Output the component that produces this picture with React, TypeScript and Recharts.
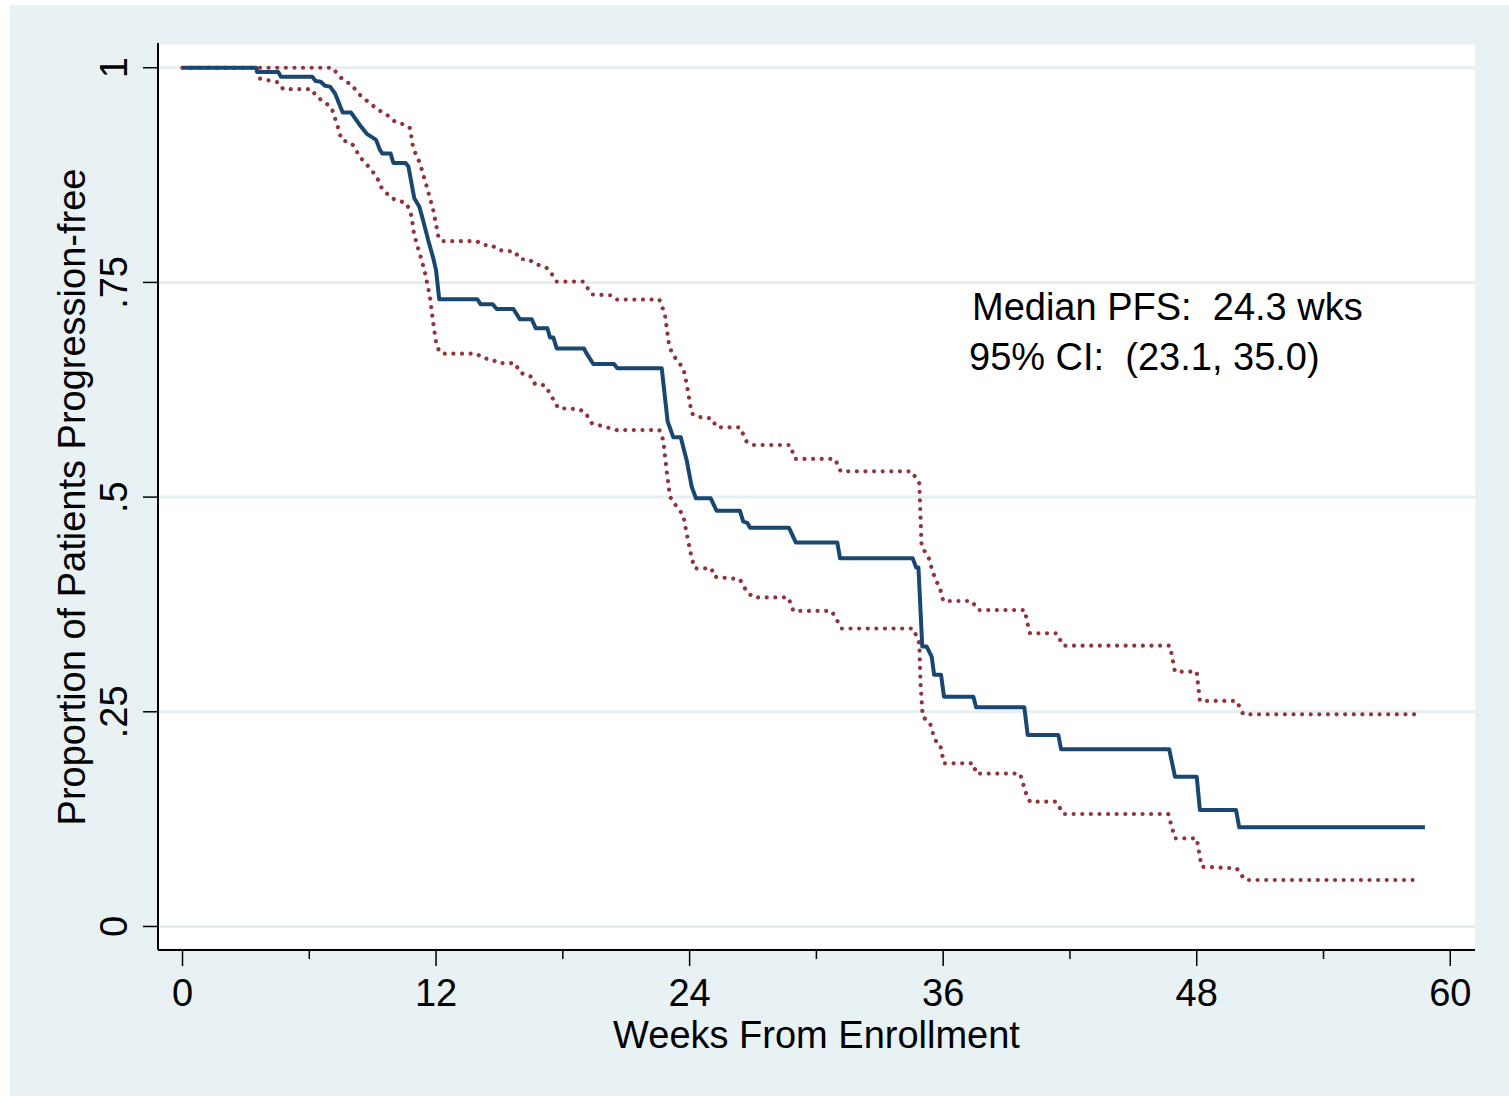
import React from 'react';
import { LineChart, Line, XAxis, YAxis, CartesianGrid, Label } from 'recharts';

// Kaplan-Meier estimate of progression-free proportion (corners)
const pfsWeeks = [0, 3.48, 3.54, 4.53, 4.66, 6.14, 6.3, 6.54, 6.74, 6.98, 7.22, 7.58, 7.97, 8.4, 8.72, 8.91, 9.16, 9.35, 9.46, 9.85, 9.98, 10.56, 10.69, 10.97, 11.21, 11.4, 11.63, 11.87, 12.0, 12.15, 13.95, 14.11, 14.68, 14.87, 15.66, 15.97, 16.53, 16.72, 17.27, 17.39, 17.55, 17.71, 19.0, 19.13, 19.44, 20.42, 20.58, 22.68, 22.96, 23.23, 23.58, 23.86, 24.1, 24.3, 25.0, 25.28, 26.38, 26.54, 26.73, 26.86, 28.7, 29.03, 30.99, 31.12, 34.56, 34.72, 34.83, 35.01, 35.22, 35.46, 35.57, 35.9, 36.04, 37.43, 37.56, 39.84, 40.0, 41.45, 41.58, 46.7, 46.97, 48.0, 48.15, 49.86, 50.01, 58.8];
const pfsValues = [1, 1, 0.995, 0.995, 0.9895, 0.9895, 0.9845, 0.9837, 0.979, 0.978, 0.97, 0.948, 0.948, 0.933, 0.923, 0.92, 0.916, 0.904, 0.9, 0.9, 0.889, 0.889, 0.885, 0.848, 0.838, 0.821, 0.799, 0.778, 0.764, 0.7305, 0.7305, 0.7245, 0.7245, 0.719, 0.719, 0.707, 0.707, 0.6966, 0.6966, 0.686, 0.686, 0.673, 0.673, 0.667, 0.655, 0.655, 0.65, 0.65, 0.588, 0.5696, 0.5696, 0.543, 0.512, 0.4986, 0.4986, 0.484, 0.484, 0.4714, 0.47, 0.4644, 0.4644, 0.447, 0.447, 0.4287, 0.4287, 0.418, 0.418, 0.326, 0.326, 0.314, 0.293, 0.293, 0.2676, 0.2676, 0.2552, 0.2552, 0.223, 0.223, 0.2063, 0.2063, 0.1744, 0.1744, 0.1357, 0.1357, 0.1155, 0.1155];

// upper 95% bound
const upperWeeks = [0, 7.11, 7.3, 7.61, 8.01, 8.32, 8.87, 9.27, 9.74, 10.06, 10.61, 10.77, 10.92, 11.24, 11.56, 11.87, 12.11, 12.27, 13.92, 14.24, 14.63, 14.95, 15.74, 15.97, 16.37, 16.68, 17.31, 17.71, 18.97, 19.37, 20.31, 20.55, 22.57, 22.83, 23.04, 23.23, 23.7, 23.86, 24.1, 24.33, 25.04, 25.28, 26.38, 26.7, 27.01, 28.75, 28.99, 30.88, 31.15, 34.51, 34.87, 34.98, 35.3, 35.53, 35.93, 36.0, 37.35, 37.66, 39.87, 39.95, 40.11, 41.37, 41.68, 46.73, 46.97, 48.0, 48.15, 49.89, 50.2, 58.57];
const upperValues = [1, 1, 0.9935, 0.9857, 0.98, 0.97, 0.9585, 0.951, 0.944, 0.937, 0.933, 0.9295, 0.906, 0.8887, 0.8615, 0.834, 0.803, 0.798, 0.798, 0.7935, 0.7935, 0.7877, 0.7857, 0.777, 0.777, 0.772, 0.766, 0.751, 0.751, 0.736, 0.735, 0.73, 0.73, 0.713, 0.675, 0.665, 0.65, 0.632, 0.5974, 0.5935, 0.5917, 0.5813, 0.5813, 0.5645, 0.5607, 0.5607, 0.5444, 0.5444, 0.53, 0.53, 0.516, 0.4423, 0.4306, 0.411, 0.388, 0.379, 0.379, 0.3685, 0.3685, 0.357, 0.3414, 0.3414, 0.327, 0.327, 0.2967, 0.2967, 0.2626, 0.2626, 0.2471, 0.2471];

// lower 95% bound
const lowerWeeks = [0, 3.48, 3.59, 4.53, 4.77, 6.11, 6.35, 6.74, 7.06, 7.3, 7.53, 8.01, 8.4, 8.87, 9.19, 9.43, 9.9, 10.61, 10.85, 10.92, 11.08, 11.32, 11.48, 11.71, 11.87, 12.03, 12.27, 13.92, 14.24, 14.63, 14.95, 15.74, 15.97, 16.53, 16.68, 17.16, 17.47, 17.79, 18.73, 19.05, 19.37, 20.55, 22.57, 22.75, 22.91, 23.07, 23.39, 23.7, 23.86, 24.1, 24.25, 25.04, 25.15, 26.38, 26.7, 27.01, 28.67, 28.91, 30.72, 31.2, 34.58, 34.87, 34.93, 35.03, 35.38, 35.61, 35.85, 36.04, 37.43, 37.56, 39.64, 39.95, 40.11, 41.34, 41.53, 41.68, 46.65, 46.97, 48.0, 48.23, 49.89, 50.28, 58.57];
const lowerValues = [1, 1, 0.9877, 0.983, 0.975, 0.975, 0.966, 0.96, 0.9527, 0.935, 0.916, 0.912, 0.896, 0.883, 0.873, 0.8596, 0.848, 0.842, 0.8265, 0.811, 0.7955, 0.776, 0.7606, 0.7333, 0.702, 0.675, 0.667, 0.667, 0.6616, 0.6605, 0.656, 0.656, 0.645, 0.64, 0.6317, 0.63, 0.617, 0.6034, 0.6026, 0.599, 0.586, 0.578, 0.578, 0.5665, 0.5315, 0.5005, 0.4888, 0.479, 0.4578, 0.4287, 0.417, 0.417, 0.4073, 0.4043, 0.39, 0.3832, 0.3832, 0.3674, 0.3674, 0.347, 0.347, 0.3298, 0.283, 0.2443, 0.2366, 0.217, 0.2125, 0.19, 0.19, 0.178, 0.178, 0.153, 0.1453, 0.1453, 0.1376, 0.131, 0.131, 0.1027, 0.1027, 0.0696, 0.0677, 0.0541, 0.0541];

const xTicks = [0, 6, 12, 18, 24, 30, 36, 42, 48, 54, 60];
const xTickLabels = ['0', '', '12', '', '24', '', '36', '', '48', '', '60'];
const yTicks = [0, 0.25, 0.5, 0.75, 1];
const yTickLabels = ['0', '.25', '.5', '.75', '1'];
const annotationLines = ['Median PFS:  24.3 wks', '95% CI:  (23.1, 35.0)'];

const toPoints = (weeks: number[], values: number[]) =>
  weeks.map((w, i) => ({ week: w, value: values[i] }));

const pfsData = toPoints(pfsWeeks, pfsValues);
const upperData = toPoints(upperWeeks, upperValues);
const lowerData = toPoints(lowerWeeks, lowerValues);

const FONT = '"Liberation Sans", Arial, Helvetica, sans-serif';
const NAVY = '#1a476f';
const MAROON = '#90353b';
const BG = '#e8f1f3';

// plot region in page pixels
const PLOT_LEFT = 158;
const PLOT_TOP = 43;
const PLOT_RIGHT = 1475;
const PLOT_BOTTOM = 950;

const XTick = (props: any) => {
  const { x, payload } = props;
  const idx = xTicks.indexOf(payload.value);
  const label = xTickLabels[idx];
  const major = label !== '';
  return (
    <g>
      <line x1={x} x2={x} y1={PLOT_BOTTOM} y2={PLOT_BOTTOM + (major ? 16 : 9)} stroke="#000" strokeWidth={1.5} />
      {major && (
        <text x={x} y={1006} textAnchor="middle" fontSize={38} fontFamily={FONT} fill="#000">
          {label}
        </text>
      )}
    </g>
  );
};

const YTick = (props: any) => {
  const { y, payload } = props;
  const idx = yTicks.indexOf(payload.value);
  return (
    <g>
      <line x1={PLOT_LEFT - 15} x2={PLOT_LEFT} y1={y} y2={y} stroke="#000" strokeWidth={1.5} />
      <text
        x={127}
        y={y}
        transform={`rotate(-90, 127, ${y})`}
        textAnchor="middle"
        fontSize={38}
        fontFamily={FONT}
        fill="#000"
      >
        {yTickLabels[idx]}
      </text>
    </g>
  );
};

export default function App() {
  return (
    <div style={{ position: 'absolute', left: 0, top: 0, width: 1509, height: 1096, background: '#fff' }}>
      <div style={{ position: 'absolute', left: 10, top: 5, right: 0, bottom: 0, background: BG }} />
      <div style={{ position: 'absolute', left: 0, top: 0 }}>
        <LineChart
          width={1509}
          height={1096}
          margin={{ top: PLOT_TOP, right: 1509 - PLOT_RIGHT, bottom: 1096 - PLOT_BOTTOM - 100, left: PLOT_LEFT - 100 }}
        >
          <CartesianGrid vertical={false} stroke="#e6eef1" strokeWidth={3} fill="#ffffff" />
          <XAxis
            type="number"
            dataKey="week"
            domain={[-1.16, 61.17]}
            allowDataOverflow
            ticks={xTicks}
            interval={0}
            height={100}
            axisLine={{ stroke: '#000', strokeWidth: 2 }}
            tickLine={false}
            tick={<XTick />}
          >
            <Label
              content={() => (
                <text x={(PLOT_LEFT + PLOT_RIGHT) / 2} y={1048} textAnchor="middle" fontSize={38} fontFamily={FONT} fill="#000">
                  Weeks From Enrollment
                </text>
              )}
            />
          </XAxis>
          <YAxis
            type="number"
            domain={[-0.0274, 1.0288]}
            allowDataOverflow
            ticks={yTicks}
            interval={0}
            width={100}
            axisLine={{ stroke: '#000', strokeWidth: 2 }}
            tickLine={false}
            tick={<YTick />}
          >
            <Label
              content={() => (
                <text
                  x={85}
                  y={497}
                  transform="rotate(-90, 85, 497)"
                  textAnchor="middle"
                  fontSize={38}
                  fontFamily={FONT}
                  fill="#000"
                >
                  Proportion of Patients Progression-free
                </text>
              )}
            />
          </YAxis>
          <Line
            data={upperData}
            dataKey="value"
            type="linear"
            stroke={MAROON}
            strokeWidth={4.2}
            strokeDasharray="0.01 8.6"
            strokeLinecap="round"
            dot={false}
            activeDot={false}
            isAnimationActive={false}
          />
          <Line
            data={lowerData}
            dataKey="value"
            type="linear"
            stroke={MAROON}
            strokeWidth={4.2}
            strokeDasharray="0.01 8.6"
            strokeLinecap="round"
            dot={false}
            activeDot={false}
            isAnimationActive={false}
          />
          <Line
            data={pfsData}
            dataKey="value"
            type="linear"
            stroke={NAVY}
            strokeWidth={4}
            strokeLinejoin="round"
            dot={false}
            activeDot={false}
            isAnimationActive={false}
          />
        </LineChart>
      </div>
      <svg style={{ position: 'absolute', left: 0, top: 0, pointerEvents: 'none' }} width={1509} height={1096}>
        <text x={972} y={320} fontSize={38} fontFamily={FONT} fill="#000" style={{ whiteSpace: 'pre' }}>
          {annotationLines[0]}
        </text>
        <text x={969} y={370} fontSize={38} fontFamily={FONT} fill="#000" style={{ whiteSpace: 'pre' }}>
          {annotationLines[1]}
        </text>
      </svg>
    </div>
  );
}
